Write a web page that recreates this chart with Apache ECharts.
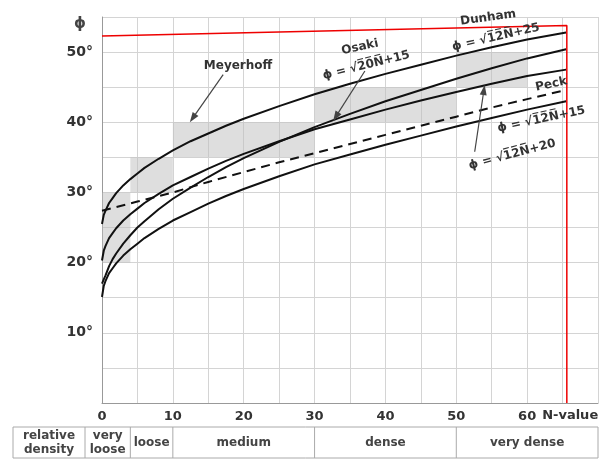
<!DOCTYPE html>
<html>
<head>
<meta charset="utf-8">
<script src="https://cdn.jsdelivr.net/npm/echarts@6/dist/echarts.min.js"></script>
<style>
html, body { margin: 0; padding: 0; background: #fff; }
#chart { width: 602px; height: 459px; }
</style>
</head>
<body>
<div id="chart"></div>
<script>
const nValues = [0, 0.25, 0.5, 1, 1.5, 2, 3, 4, 5, 6, 8, 10, 12.5, 15, 17.5, 20, 25, 30, 35, 40, 45, 50, 55, 60, 65.5]
const dunham25 = [25.5, 26.8, 27.4, 28.5, 29.2, 29.9, 31.0, 31.9, 32.7, 33.5, 34.8, 36.0, 37.3, 38.4, 39.5, 40.5, 42.3, 44.0, 45.5, 46.9, 48.2, 49.5, 50.7, 51.8, 52.8]
const dunham20 = [20.3, 21.7, 22.4, 23.5, 24.2, 24.9, 26.0, 26.9, 27.7, 28.5, 29.8, 31.0, 32.2, 33.4, 34.5, 35.5, 37.3, 39.0, 40.4, 41.8, 43.1, 44.3, 45.5, 46.6, 47.5]
const dunham15 = [15.1, 16.7, 17.4, 18.5, 19.2, 19.9, 21.0, 21.9, 22.7, 23.5, 24.8, 26.0, 27.2, 28.4, 29.5, 30.5, 32.3, 34.0, 35.4, 36.8, 38.1, 39.4, 40.6, 41.8, 43.0]
const osaki = [17.0, 17.6, 18.2, 19.5, 20.5, 21.3, 22.7, 23.9, 25.0, 25.9, 27.6, 29.1, 30.7, 32.2, 33.6, 34.9, 37.2, 39.3, 41.2, 43.0, 44.6, 46.2, 47.7, 49.1, 50.4]

const peckN = [0, 5, 10, 15, 20, 25, 30, 35, 40, 45, 50, 55, 60, 65.5]
const peck = [27.4, 28.7, 30.0, 31.5, 32.9, 34.3, 35.6, 36.9, 38.2, 39.5, 40.8, 42.1, 43.3, 44.6]

// Meyerhoff ranges: [N from, N to, phi from, phi to]
const meyerhoff = [
    [0, 4, 20, 30],
    [4, 10, 30, 35],
    [10, 30, 35, 40],
    [30, 50, 40, 45],
    [50, 60, 45, 50]
]

// red frame line
const redLine = [[0, 52.3], [65.6, 53.8], [65.6, 0]]

// density classes under the axis
const densityLabels = ['very\nloose', 'loose', 'medium', 'dense', 'very dense']
const densityBounds = [4, 10, 30, 50, 70]

const xTicks = [0, 10, 20, 30, 40, 50, 60]
const yTicks = [10, 20, 30, 40, 50]

const zip = (xs, ys) => xs.map((x, i) => [x, ys[i]])
const over = s => s.split('').map(c => c + '\u0305').join('')

const chart = echarts.init(document.getElementById('chart'))

const curveStyle = { color: '#111', width: 2 }
const font = 'DejaVu Sans'

const curve = (name, xs, ys, style) => ({
    name: name,
    type: 'line',
    showSymbol: false,
    lineStyle: style || curveStyle,
    data: zip(xs, ys)
})

const option = {
    animation: false,
    grid: { left: 102, right: 4, top: 17, bottom: 56 },
    xAxis: {
        type: 'value',
        min: 0,
        max: 70,
        interval: 5,
        axisLine: { lineStyle: { color: '#999' } },
        axisTick: { show: false },
        axisLabel: {
            margin: 7,
            color: '#333',
            fontFamily: font,
            fontWeight: 'bold',
            fontSize: 13,
            formatter: v => xTicks.includes(v) ? String(v) : ''
        },
        splitLine: { lineStyle: { color: '#d4d4d4' } }
    },
    yAxis: {
        type: 'value',
        min: 0,
        max: 55,
        interval: 5,
        axisLine: { show: true, lineStyle: { color: '#999' } },
        axisTick: { show: false },
        axisLabel: {
            margin: 9,
            color: '#333',
            fontFamily: font,
            fontWeight: 'bold',
            fontSize: 14,
            formatter: v => yTicks.includes(v) ? v + '°' : ''
        },
        splitLine: { lineStyle: { color: '#d4d4d4' } }
    },
    series: [
        {
            type: 'line',
            data: [],
            silent: true,
            markArea: {
                silent: true,
                itemStyle: { color: '#bdbdbd', opacity: 0.5 },
                data: meyerhoff.map(r => [{ coord: [r[0], r[2]] }, { coord: [r[1], r[3]] }])
            },
            markLine: {
                silent: true,
                symbol: ['none', 'triangle'],
                symbolSize: [7, 10],
                label: { show: false },
                lineStyle: { color: '#444', width: 1.2, type: 'solid' },
                data: [
                    [{ coord: [17.1, 46.8] }, { coord: [12.8, 40.6] }],
                    [{ coord: [37.1, 47.3] }, { coord: [33.0, 40.8] }],
                    [{ coord: [52.6, 35.8] }, { coord: [53.9, 44.6] }]
                ]
            }
        },
        curve('Dunham +25', nValues, dunham25),
        curve('Osaki', nValues, osaki),
        curve('Dunham +20', nValues, dunham20),
        curve('Dunham +15', nValues, dunham15),
        curve('Peck', peckN, peck, { color: '#111', width: 2, type: [9, 6] }),
        { name: 'frame', type: 'line', showSymbol: false, lineStyle: { color: '#e00', width: 1.5 }, data: redLine }
    ]
}

chart.setOption(option)

// annotations placed in data coordinates
const notes = [
    { text: 'Meyerhoff', at: [19.2, 48.1], rot: 0 },
    { text: 'Osaki', at: [36.4, 50.7], rot: 12 },
    { text: 'ϕ = √' + over('20N') + '+15', at: [37.3, 48.1], rot: 14 },
    { text: 'Dunham', at: [54.5, 54.9], rot: 8 },
    { text: 'ϕ = √' + over('12N') + '+25', at: [55.6, 52.1], rot: 13 },
    { text: 'Peck', at: [63.4, 45.4], rot: 12 },
    { text: 'ϕ = √' + over('12N') + '+15', at: [62.0, 40.4], rot: 12 },
    { text: 'ϕ = √' + over('12N') + '+20', at: [57.9, 35.4], rot: 15 }
]

const px = v => chart.convertToPixel({ xAxisIndex: 0 }, v)
const graphics = notes.map(n => {
    const p = chart.convertToPixel({ gridIndex: 0 }, n.at)
    return {
        type: 'text',
        x: p[0],
        y: p[1],
        rotation: n.rot * Math.PI / 180,
        z: 100,
        style: {
            text: n.text,
            align: 'center',
            verticalAlign: 'middle',
            fill: '#333',
            font: 'bold 12px "DejaVu Sans"'
        }
    }
})

graphics.push({
    type: 'text', x: 80, y: 24, z: 100,
    style: { text: 'ϕ', align: 'center', verticalAlign: 'middle', fill: '#444', font: 'bold 15px "DejaVu Sans"' }
})
graphics.push({
    type: 'text', x: px(60) + 15, y: 416, z: 100,
    style: { text: 'N-value', align: 'left', verticalAlign: 'middle', fill: '#333', font: 'bold 13px "DejaVu Sans"' }
})

// density table
const tableTop = 427
const tableBottom = 458
const edges = [13, 85].concat(densityBounds.map(px))
const cellLabels = ['relative\ndensity'].concat(densityLabels)
graphics.push({
    type: 'rect', z: 100,
    shape: { x: edges[0], y: tableTop, width: edges[edges.length - 1] - edges[0], height: tableBottom - tableTop },
    style: { fill: 'none', stroke: '#aaa', lineWidth: 1 }
})
for (let i = 0; i < cellLabels.length; i++) {
    if (i > 0) {
        graphics.push({
            type: 'line', z: 100,
            shape: { x1: edges[i], y1: tableTop, x2: edges[i], y2: tableBottom },
            style: { stroke: '#aaa', lineWidth: 1 }
        })
    }
    graphics.push({
        type: 'text', z: 100,
        x: (edges[i] + edges[i + 1]) / 2,
        y: (tableTop + tableBottom) / 2,
        style: {
            text: cellLabels[i],
            align: 'center',
            verticalAlign: 'middle',
            lineHeight: 14,
            fill: '#444',
            font: 'bold 12px "DejaVu Sans"'
        }
    })
}

chart.setOption({ graphic: graphics })
</script>
</body>
</html>
